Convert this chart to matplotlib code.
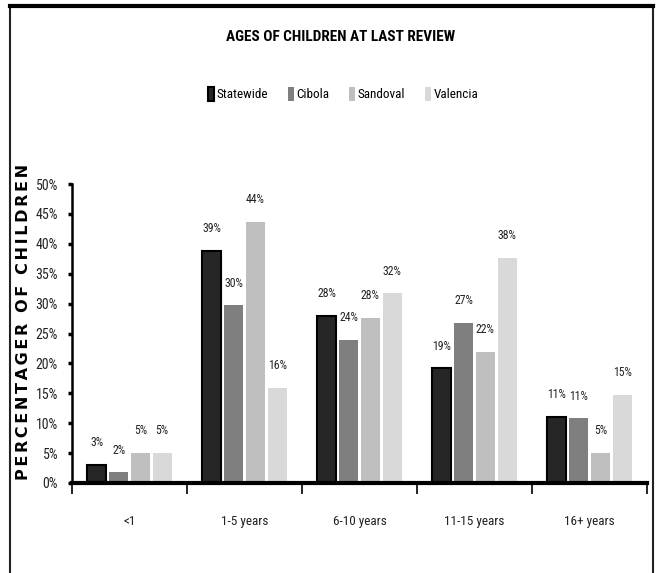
import matplotlib
matplotlib.use("Agg")
import matplotlib.pyplot as plt
from matplotlib.lines import Line2D
from matplotlib.font_manager import fontManager, FontProperties
import numpy as np

categories = ["<1", "1-5 years", "6-10 years", "11-15 years", "16+ years"]
series_names = ["Statewide", "Cibola", "Sandoval", "Valencia"]
statewide = [3.0, 38.8, 28.0, 19.2, 11.1]
cibola = [1.8, 29.7, 23.9, 26.8, 10.8]
sandoval = [5.1, 43.7, 27.6, 21.9, 5.0]
valencia = [5.1, 15.9, 31.7, 37.7, 14.7]
labels_statewide = ["3%", "39%", "28%", "19%", "11%"]
labels_cibola = ["2%", "30%", "24%", "27%", "11%"]
labels_sandoval = ["5%", "44%", "28%", "22%", "5%"]
labels_valencia = ["5%", "16%", "32%", "38%", "15%"]
yticks = [0, 5, 10, 15, 20, 25, 30, 35, 40, 45, 50]

# look for a condensed sans face
cond = None
pref = ["Liberation Sans Narrow", "Roboto Condensed", "DejaVu Sans", "Open Sans", "Noto Sans", "Roboto"]
cands = [f for f in fontManager.ttflist
         if str(f.stretch) in ("condensed", "semi-condensed", "extra-condensed", "ultra-condensed")]
for p in pref:
    for f in cands:
        if f.name == p:
            cond = (f.name, f.stretch)
            break
    if cond:
        break
if cond is None:
    names = {f.name for f in fontManager.ttflist}
    for p in ["Liberation Sans Narrow", "Roboto Condensed", "Open Sans Condensed"]:
        if p in names:
            cond = (p, "normal")
            break


def fp(size, weight="normal"):
    if cond:
        return FontProperties(family=cond[0], stretch=cond[1], size=size, weight=weight)
    return FontProperties(family="Liberation Sans", size=size * 0.85, weight=weight)


colors = ["#262626", "#7f7f7f", "#bfbfbf", "#d9d9d9"]
edges = ["#000000", "#7f7f7f", "#bfbfbf", "#d9d9d9"]
lws = [1.5, 0, 0, 0]

fig = plt.figure(figsize=(6.59, 5.73), dpi=100)
W, H = 659, 573
ax = fig.add_axes([72 / W, 1 - 483 / H, (647 - 72) / W, (483 - 184) / H])

x = np.arange(len(categories))
slot = 0.19
bw = 0.165
data = [statewide, cibola, sandoval, valencia]
labs = [labels_statewide, labels_cibola, labels_sandoval, labels_valencia]
for i, (vals, lab) in enumerate(zip(data, labs)):
    pos = x + (i - 1.5) * slot
    ax.bar(pos, vals, width=bw, color=colors[i], edgecolor=edges[i], linewidth=lws[i],
           label=series_names[i], zorder=2)
    for p, v, t in zip(pos, vals, lab):
        ax.text(p, v + 3.7, t, ha="center", va="center", fontproperties=fp(8.5), color="#222222")

ax.set_xlim(-0.5, len(categories) - 0.5)
ax.set_ylim(0, 50)
ax.set_yticks(yticks)
ax.set_yticklabels([f"{t}%" for t in yticks], fontproperties=fp(10), color="#222222")
ax.set_xticks(np.arange(len(categories) + 1) - 0.5)
ax.set_xticklabels([])
ax.set_xticks(x, minor=True)
ax.set_xticklabels(categories, minor=True, fontproperties=fp(9.5), color="#222222")
ax.tick_params(axis="x", which="major", length=8, width=1.2, direction="out")
ax.tick_params(axis="x", which="minor", length=0, pad=23)
ax.tick_params(axis="y", length=3, width=2.5, direction="out", pad=7)
for s in ["top", "right"]:
    ax.spines[s].set_visible(False)
ax.spines["bottom"].set_linewidth(3)
ax.spines["left"].set_linewidth(1.8)

ylab = "\u2006".join("PERCENTAGER OF CHILDREN")
ax.set_ylabel(ylab, fontsize=11.5, fontweight="bold", family="DejaVu Sans")
ax.yaxis.set_label_coords(-0.071, 0.54)

fig.text(341 / W, 1 - 37 / H, "AGES OF CHILDREN AT LAST REVIEW", ha="center", va="center",
         fontproperties=fp(11, "bold"))

leg = fig.legend(loc="center", bbox_to_anchor=(343 / W, 1 - 94 / H), ncol=4, frameon=False,
                 prop=fp(9.5), handlelength=0.45, handleheight=1.3,
                 handletextpad=0.2, columnspacing=1.5)

# border
fig.add_artist(Line2D([10 / W, 10 / W], [0, 1 - 6 / H], transform=fig.transFigure, color="#222222", lw=1.5))
fig.add_artist(Line2D([653 / W, 653 / W], [0, 1 - 6 / H], transform=fig.transFigure, color="#222222", lw=1.5))
fig.add_artist(Line2D([10 / W, 653 / W], [1 - 6 / H, 1 - 6 / H], transform=fig.transFigure, color="#000000", lw=3))

fig.savefig("out.png", dpi=100)
